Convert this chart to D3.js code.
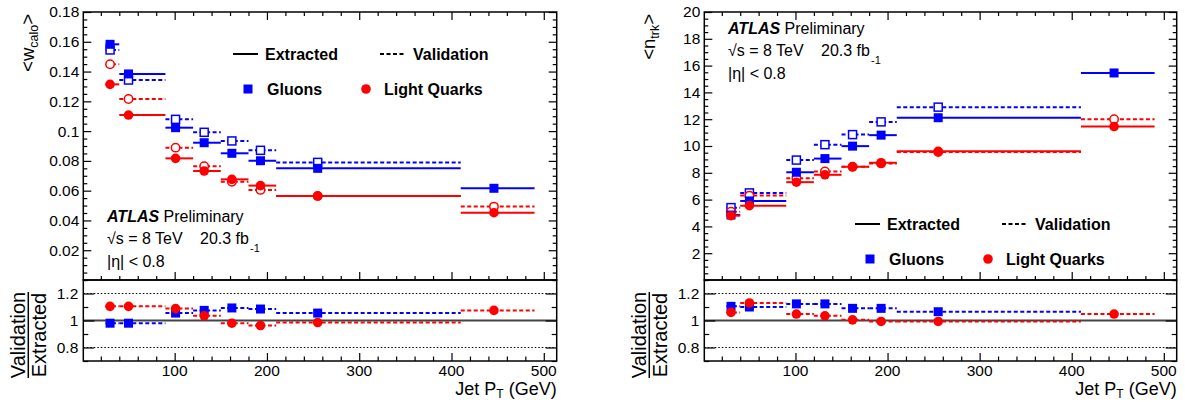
<!DOCTYPE html>
<html><head><meta charset="utf-8">
<script src="https://cdn.jsdelivr.net/npm/d3@7"></script>
<style>
body{margin:0;background:#fff;}
svg{display:block;font-family:"Liberation Sans",Arial,Helvetica,sans-serif;}
</style></head>
<body>
<svg id="chart" width="1185" height="402"></svg>
<script>
// ---------------- data ----------------
const binLo  = [25, 40, 90, 120, 150, 180, 210, 410];
const binHi  = [40, 90, 120, 150, 180, 210, 410, 490];
const ptMean = [30, 50, 101, 132, 162, 193, 255, 446];

// left panel: <w_calo>
const wGluonExtracted = [0.1583, 0.1384, 0.1023, 0.0922, 0.0851, 0.0801, 0.0750, 0.0616];
const wGluonValidation = [0.1545, 0.1343, 0.1079, 0.0992, 0.0934, 0.0871, 0.0790, null];
const wQuarkExtracted = [0.1314, 0.1108, 0.0817, 0.0732, 0.0676, 0.0634, 0.0564, 0.0452];
const wQuarkValidation = [0.1449, 0.1216, 0.0889, 0.0764, 0.0660, 0.0605, 0.0565, 0.0493];
const wGluonRatio = [0.98, 0.98, 1.055, 1.075, 1.093, 1.085, 1.055, null];
const wQuarkRatio = [1.105, 1.105, 1.088, 1.035, 0.98, 0.963, 0.985, 1.075];

// right panel: <n_trk>
const nGluonExtracted = [4.85, 5.9, 8.04, 9.06, 9.99, 10.81, 12.11, 15.45];
const nGluonValidation = [5.4, 6.5, 8.95, 10.1, 10.85, 11.8, 12.9, null];
const nQuarkExtracted = [4.8, 5.55, 7.3, 7.85, 8.45, 8.75, 9.6, 11.45];
const nQuarkValidation = [5.1, 6.3, 7.6, 8.1, 8.45, 8.7, 9.55, 12.0];
const nGluonRatio = [1.105, 1.1, 1.123, 1.123, 1.09, 1.09, 1.065, null];
const nQuarkRatio = [1.06, 1.13, 1.048, 1.035, 1.005, 0.993, 0.993, 1.048];

const xDomain = [1, 514];
const wDomain = [0, 0.18];
const nDomain = [0, 20];
const ratioDomain = [0.7, 1.3];
const wTicks = [0.02, 0.04, 0.06, 0.08, 0.1, 0.12, 0.14, 0.16, 0.18];
const nTicks = [2, 4, 6, 8, 10, 12, 14, 16, 18, 20];
const ratioTicks = [0.8, 1, 1.2];
const xTicks = [100, 200, 300, 400, 500];

const legendLines = ["Extracted", "Validation"];
const legendSeries = ["Gluons", "Light Quarks"];

// ---------------- drawing ----------------
const BLUE = "#0000ff", RED = "#ff0000";
const svg = d3.select("#chart");
const yTop = 12, yMid = 280, yBot = 361;

function range(a, b, s) { const r = []; for (let v = a; v <= b + 1e-9; v += s) r.push(+v.toFixed(6)); return r; }
function fmt(v) { return String(+v.toFixed(3)); }

function panel(cfg) {
  const g = svg.append("g");
  const x = d3.scaleLinear(xDomain, [cfg.x0, cfg.x1]);
  const y = d3.scaleLinear(cfg.yDomain, [yMid, yTop]);
  const yr = d3.scaleLinear(ratioDomain, [yBot, yMid]);

  // ratio reference lines
  [0.8, 1.2].forEach(v => g.append("line").attr("x1", cfg.x0).attr("x2", cfg.x1)
    .attr("y1", yr(v)).attr("y2", yr(v)).attr("stroke", "#000").attr("stroke-width", 1.2)
    .attr("stroke-dasharray", "1.5,2"));
  g.append("line").attr("x1", cfg.x0).attr("x2", cfg.x1).attr("y1", yr(1)).attr("y2", yr(1))
    .attr("stroke", "#444").attr("stroke-width", 2);

  // ---- axes (D3 axes with inward ticks) ----
  const minorX = range(20, 500, 20).filter(v => v % 100 !== 0);
  const minorY = range(0, cfg.yDomain[1], cfg.yMinor).filter(v => !cfg.yTicks.some(t => Math.abs(t - v) < 1e-6));
  const minorR = [0.7, 0.9, 1.1, 1.3];

  function ax(axisFn, scale, vals, len, tx, ty, labels) {
    const a = axisFn(scale).tickValues(vals).tickSizeInner(-len).tickSizeOuter(0)
      .tickFormat(labels ? fmt : "").tickPadding(labels ? len + 5 : 0);
    const s = g.append("g").attr("transform", `translate(${tx},${ty})`).call(a);
    s.select(".domain").remove();
    s.selectAll(".tick line").attr("stroke", "#000").attr("stroke-width", 1.2);
    s.selectAll("text").attr("font-size", 15.5).attr("fill", "#000").attr("font-family", "Liberation Sans, Arial, sans-serif");
    return s;
  }
  // top panel x axes
  ax(d3.axisBottom, x, xTicks, 8, 0, yMid, false);
  ax(d3.axisBottom, x, minorX, 4, 0, yMid, false);
  ax(d3.axisTop, x, xTicks, 8, 0, yTop, false);
  ax(d3.axisTop, x, minorX, 4, 0, yTop, false);
  // ratio x axis
  ax(d3.axisBottom, x, xTicks, 8, 0, yBot, false);
  ax(d3.axisBottom, x, minorX, 4.5, 0, yBot, false);
  xTicks.forEach(v => g.append("text").attr("x", x(v)).attr("y", 376).attr("text-anchor", "middle")
    .attr("font-size", 15.5).text(fmt(v)));
  // top panel y axes
  const ylab = ax(d3.axisLeft, y, cfg.yTicks, 8, cfg.x0, 0, true);
  ylab.selectAll("text").attr("x", -4);
  ax(d3.axisLeft, y, minorY, 4, cfg.x0, 0, false);
  ax(d3.axisRight, y, cfg.yTicks, 8, cfg.x1, 0, false);
  ax(d3.axisRight, y, minorY, 4, cfg.x1, 0, false);
  // ratio y axes
  const rlab = ax(d3.axisLeft, yr, ratioTicks, 11, cfg.x0, 0, true);
  rlab.selectAll("text").attr("x", -5);
  ax(d3.axisLeft, yr, minorR, 5, cfg.x0, 0, false);
  ax(d3.axisRight, yr, ratioTicks, 11, cfg.x1, 0, false);
  ax(d3.axisRight, yr, minorR, 5, cfg.x1, 0, false);

  // frames
  g.append("rect").attr("x", cfg.x0).attr("y", yTop).attr("width", cfg.x1 - cfg.x0).attr("height", yMid - yTop)
    .attr("fill", "none").attr("stroke", "#000").attr("stroke-width", 1.5);
  g.append("rect").attr("x", cfg.x0).attr("y", yMid).attr("width", cfg.x1 - cfg.x0).attr("height", yBot - yMid)
    .attr("fill", "none").attr("stroke", "#000").attr("stroke-width", 1.5);

  // ---- data series ----
  function series(vals, yS, color, dashed, marker, open) {
    const sg = g.append("g");
    vals.forEach((v, i) => {
      if (v == null) return;
      sg.append("line").attr("x1", x(binLo[i])).attr("x2", x(binHi[i])).attr("y1", yS(v)).attr("y2", yS(v))
        .attr("stroke", color).attr("stroke-width", 2).attr("stroke-dasharray", dashed ? "4,2.5" : null);
    });
    vals.forEach((v, i) => {
      if (v == null) return;
      drawMarker(sg, x(ptMean[i]), yS(v), color, marker, open);
    });
  }
  series(cfg.gv, y, BLUE, true, "square", true);
  series(cfg.qv, y, RED, true, "circle", true);
  series(cfg.ge, y, BLUE, false, "square", false);
  series(cfg.qe, y, RED, false, "circle", false);
  series(cfg.gr, yr, BLUE, true, "square", false);
  series(cfg.qr, yr, RED, true, "circle", false);

  // ---- texts ----
  const tx = cfg.tx, ty = cfg.ty;
  const t1 = g.append("text").attr("x", tx).attr("y", ty).attr("font-size", 16);
  t1.append("tspan").attr("font-weight", "bold").attr("font-style", "italic").text("ATLAS");
  t1.append("tspan").text(" Preliminary");
  g.append("text").attr("x", tx).attr("y", ty + 22).attr("font-size", 16).text("√s = 8 TeV");
  g.append("text").attr("x", tx + 93).attr("y", ty + 22).attr("font-size", 16).text("20.3 fb");
  g.append("text").attr("x", tx + 143).attr("y", ty + 30).attr("font-size", 11).text("-1");
  g.append("text").attr("x", tx).attr("y", ty + 45).attr("font-size", 16).text("|η| < 0.8");

  // legend
  const lx = cfg.lx, ly = cfg.ly;
  g.append("line").attr("x1", lx).attr("x2", lx + 25).attr("y1", ly).attr("y2", ly).attr("stroke", "#000").attr("stroke-width", 2);
  g.append("text").attr("x", lx + 32).attr("y", ly + 6).attr("font-size", 16).attr("font-weight", "bold").text(legendLines[0]);
  g.append("line").attr("x1", lx + 147).attr("x2", lx + 173).attr("y1", ly).attr("y2", ly).attr("stroke", "#000").attr("stroke-width", 2).attr("stroke-dasharray", "4,2.5");
  g.append("text").attr("x", lx + 180).attr("y", ly + 6).attr("font-size", 16).attr("font-weight", "bold").text(legendLines[1]);
  drawMarker(g, lx + 15, ly + 35, BLUE, "square", false);
  g.append("text").attr("x", lx + 34).attr("y", ly + 41).attr("font-size", 16).attr("font-weight", "bold").text(legendSeries[0]);
  drawMarker(g, lx + 133, ly + 35, RED, "circle", false);
  g.append("text").attr("x", lx + 151).attr("y", ly + 41).attr("font-size", 16).attr("font-weight", "bold").text(legendSeries[1]);

  // y title
  const yt = g.append("text").attr("transform", `translate(${cfg.ytx},14) rotate(-90)`).attr("text-anchor", "end").attr("font-size", 18.5);
  yt.append("tspan").text("<" + cfg.yMain);
  yt.append("tspan").attr("font-size", 12.5).attr("dy", 4).text(cfg.ySub);
  yt.append("tspan").attr("dy", -4).text(">");

  // ratio title (fraction)
  const fx = cfg.x0 - 55, fy = 335;
  g.append("text").attr("transform", `translate(${fx - 3.5},${fy}) rotate(-90)`).attr("text-anchor", "middle").attr("font-size", 20).text("Validation");
  g.append("line").attr("x1", fx).attr("x2", fx).attr("y1", fy - 43).attr("y2", fy + 43).attr("stroke", "#000").attr("stroke-width", 1.5);
  g.append("text").attr("transform", `translate(${fx + 18},${fy}) rotate(-90)`).attr("text-anchor", "middle").attr("font-size", 20).text("Extracted");

  // x title
  const xt = g.append("text").attr("x", cfg.x1).attr("y", 395).attr("text-anchor", "end").attr("font-size", 18);
  xt.append("tspan").text("Jet P");
  xt.append("tspan").attr("font-size", 12).attr("dy", 3).text("T");
  xt.append("tspan").attr("dy", -3).text(" (GeV)");
}

function drawMarker(sel, cx, cy, color, marker, open) {
  if (marker === "square") {
    const s = open ? 8 : 9;
    sel.append("rect").attr("x", cx - s / 2).attr("y", cy - s / 2).attr("width", s).attr("height", s)
      .attr("fill", open ? "#fff" : color).attr("stroke", open ? color : "none").attr("stroke-width", 1.5);
  } else {
    sel.append("circle").attr("cx", cx).attr("cy", cy).attr("r", open ? 4.2 : 4.8)
      .attr("fill", open ? "#fff" : color).attr("stroke", open ? color : "none").attr("stroke-width", 1.5);
  }
}

panel({x0: 83.3, x1: 556.7, yDomain: wDomain, yTicks: wTicks, yMinor: 0.005,
  ge: wGluonExtracted, gv: wGluonValidation, qe: wQuarkExtracted, qv: wQuarkValidation, gr: wGluonRatio, qr: wQuarkRatio,
  tx: 107, ty: 222, lx: 233, ly: 54, ytx: 34, yMain: "w", ySub: "calo"});
panel({x0: 704.3, x1: 1176.7, yDomain: nDomain, yTicks: nTicks, yMinor: 0.5,
  ge: nGluonExtracted, gv: nGluonValidation, qe: nQuarkExtracted, qv: nQuarkValidation, gr: nGluonRatio, qr: nQuarkRatio,
  tx: 728, ty: 34, lx: 855, ly: 224, ytx: 655, yMain: "n", ySub: "trk"});
</script>
</body></html>
